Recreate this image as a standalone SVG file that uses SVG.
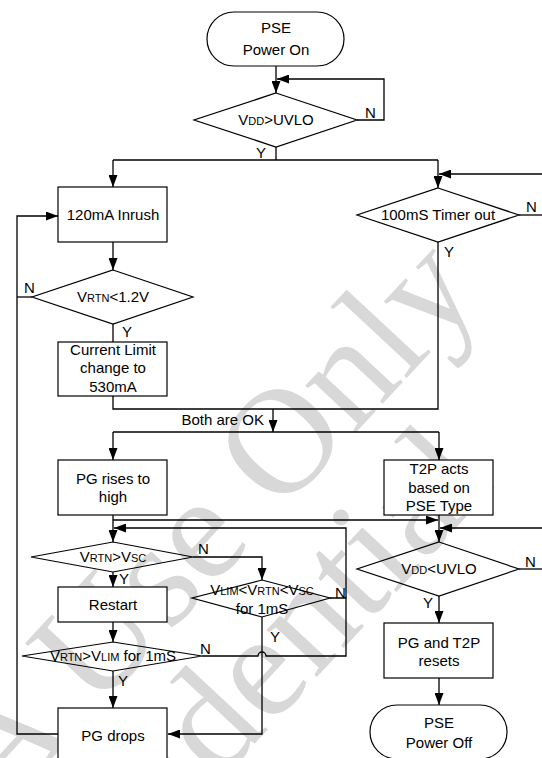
<svg xmlns="http://www.w3.org/2000/svg" width="542" height="758" viewBox="0 0 542 758">
<style>
.box{fill:#fff;stroke:#000;stroke-width:1.2}
.dia{fill:none;stroke:#000;stroke-width:1.2}
.ln{fill:none;stroke:#000;stroke-width:1.3}
.ar{fill:none;stroke:#000;stroke-width:1.3;marker-end:url(#ah)}
text{font-family:"Liberation Sans",Arial,sans-serif;font-size:15px;fill:#000}
.c{text-anchor:middle}
.s{font-size:11px}
.wm{font-family:"Liberation Serif","Times New Roman",serif;font-size:150px;fill:#d8d8d8}
</style>
<defs>
<marker id="ah" markerUnits="userSpaceOnUse" markerWidth="12" markerHeight="9" viewBox="0 0 12 9" refX="12" refY="4.5" orient="auto">
<path d="M0,0 L12,4.5 L0,9 z" fill="#000"/>
</marker>
</defs>
<rect width="542" height="758" fill="#fff"/>
<g id="watermark">
<text class="wm" transform="translate(1,813) rotate(-47)">A Use Only</text>
<text class="wm" transform="translate(-15,1033) rotate(-47)">Confidential</text>
</g>
<g id="connectors">
<path class="ar" d="M276,66 V93"/>
<path class="ar" d="M357,120 H384 V79 H277"/>
<path class="ln" d="M276,147 V160 M113,160 H438"/>
<path class="ar" d="M113,160 V187"/>
<path class="ar" d="M438,160 V188"/>
<path class="ar" d="M542,174 H439"/>
<path class="ln" d="M519,215 H542"/>
<path class="ar" d="M113,242 V270"/>
<path class="ln" d="M113,324 V342"/>
<path class="ln" d="M113,396 V409 H438 V242"/>
<path class="ar" d="M273,409 V432"/>
<path class="ln" d="M113,432 H439"/>
<path class="ar" d="M113,432 V460"/>
<path class="ar" d="M439,432 V460"/>
<path class="ar" d="M113,515 V542"/>
<path class="ar" d="M113,520 H438"/>
<path class="ar" d="M439,515 V542"/>
<path class="ar" d="M346,598 V528 H114"/>
<path class="ar" d="M542,528 H440"/>
<path class="ar" d="M193,557 H262 V580"/>
<path class="ar" d="M113,572 V587"/>
<path class="ar" d="M113,622 V642"/>
<path class="ln" d="M202,656 H258 A4,4 0 0 1 266,656 H346 V598 H330"/>
<path class="ar" d="M113,671 V708"/>
<path class="ar" d="M262,617 V734 H168"/>
<path class="ar" d="M58,734 H17 V216 H58"/>
<path class="ln" d="M32,297 H17"/>
<path class="ln" d="M519,569 H542"/>
<path class="ar" d="M439,596 V623"/>
<path class="ar" d="M439,678 V705"/>
</g>
<g id="pse-power-on">
<rect class="box" x="207" y="12" width="137" height="54" rx="27"/>
<text class="c" x="276" y="33">PSE</text>
<text class="c" x="276" y="55">Power On</text>
</g>
<g id="vdd-uvlo">
<polygon class="dia" points="276,93 357,120 276,147 194,120"/>
<text class="c" x="276" y="125">V<tspan class="s">DD</tspan>&gt;UVLO</text>
<text x="365" y="118">N</text>
<text x="256" y="158">Y</text>
</g>
<g id="inrush">
<rect class="box" x="58" y="187" width="109" height="55"/>
<text class="c" x="113" y="220">120mA Inrush</text>
</g>
<g id="timer">
<polygon class="dia" points="438,188 519,215 438,242 357,215"/>
<text class="c" x="438" y="220">100mS Timer out</text>
<text x="526" y="212">N</text>
<text x="444" y="257">Y</text>
</g>
<g id="vrtn-12">
<polygon class="dia" points="113,270 193,297 113,324 32,297"/>
<text class="c" x="113" y="302">V<tspan class="s">RTN</tspan>&lt;1.2V</text>
<text x="24" y="293">N</text>
<text x="122" y="337">Y</text>
</g>
<g id="current-limit">
<rect class="box" x="58" y="342" width="109" height="54"/>
<text class="c" x="113" y="355">Current Limit</text>
<text class="c" x="113" y="373">change to</text>
<text class="c" x="113" y="392">530mA</text>
</g>
<g id="both-ok">
<text x="264" y="425" text-anchor="end">Both are OK</text>
</g>
<g id="pg-rises">
<rect class="box" x="58" y="460" width="109" height="55"/>
<text class="c" x="113" y="484">PG rises to</text>
<text class="c" x="113" y="502">high</text>
</g>
<g id="t2p">
<rect class="box" x="384" y="460" width="109" height="55"/>
<text class="c" x="439" y="474">T2P acts</text>
<text class="c" x="439" y="493">based on</text>
<text class="c" x="439" y="511">PSE Type</text>
</g>
<g id="vrtn-vsc">
<polygon class="dia" points="113,542 193,557 113,572 31,557"/>
<text class="c" x="113" y="562">V<tspan class="s">RTN</tspan>&gt;V<tspan class="s">SC</tspan></text>
<text x="198" y="554">N</text>
<text x="119" y="584">Y</text>
</g>
<g id="vlim-window">
<polygon class="dia" points="262,580 330,598 262,617 192,598"/>
<text class="c" x="262" y="595">V<tspan class="s">LIM</tspan>&lt;V<tspan class="s">RTN</tspan>&lt;V<tspan class="s">SC</tspan></text>
<text class="c" x="262" y="614">for 1mS</text>
<text x="335" y="598">N</text>
<text x="270" y="642">Y</text>
</g>
<g id="restart">
<rect class="box" x="58" y="587" width="109" height="35"/>
<text class="c" x="113" y="610">Restart</text>
</g>
<g id="vrtn-vlim">
<polygon class="dia" points="113,642 202,656 113,671 22,656"/>
<text class="c" x="113" y="661">V<tspan class="s">RTN</tspan>&gt;V<tspan class="s">LIM</tspan> for 1mS</text>
<text x="200" y="654">N</text>
<text x="118" y="686">Y</text>
</g>
<g id="pg-drops">
<rect class="box" x="58" y="708" width="109" height="52"/>
<text class="c" x="113" y="741">PG drops</text>
</g>
<g id="vdd-lt-uvlo">
<polygon class="dia" points="439,542 519,569 439,596 357,569"/>
<text class="c" x="439" y="574">V<tspan class="s">DD</tspan>&lt;UVLO</text>
<text x="525" y="567">N</text>
<text x="423" y="608">Y</text>
</g>
<g id="resets">
<rect class="box" x="384" y="623" width="109" height="55"/>
<text class="c" x="439" y="648">PG and T2P</text>
<text class="c" x="439" y="666">resets</text>
</g>
<g id="pse-power-off">
<rect class="box" x="370" y="705" width="137" height="54" rx="27"/>
<text class="c" x="439" y="728">PSE</text>
<text class="c" x="439" y="748">Power Off</text>
</g>
</svg>
